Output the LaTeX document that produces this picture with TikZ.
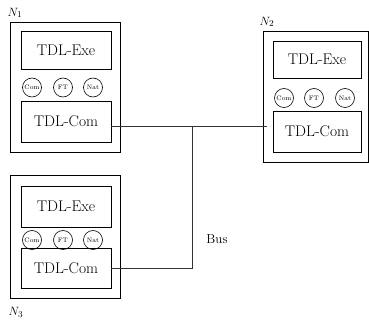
\documentclass[tikz,border=0pt]{standalone}
\begin{document}
\begin{tikzpicture}[x=1pt,y=-1pt,
  outerbox/.style={draw, line width=0.8pt, minimum width=110pt, inner sep=0pt},
  innerbox/.style={draw, line width=0.8pt, minimum width=90pt, inner sep=0pt, font=\fontsize{15.5}{18}\selectfont},
  smallc/.style={draw, circle, line width=0.6pt, minimum size=19pt, inner sep=0pt, font=\fontsize{6.5}{7}\selectfont},
  lab/.style={font=\fontsize{12.5}{14}\selectfont},
  wire/.style={line width=0.8pt, draw=black!80}]
\useasboundingbox (0,0) rectangle (369,320);
% N1
\node[outerbox, minimum height=130pt] (o1) at (65,87) {};
\node[innerbox, minimum height=38pt] (e1) at (66,50) {TDL-Exe};
\node[smallc] (a1) at (32,87.5) {Com};
\node[smallc] (b1) at (63,87.5) {FT};
\node[smallc] (d1) at (93,87.5) {Nat};
\node[innerbox, minimum height=41pt] (c1) at (66,121.5) {TDL-Com};
\node[lab] (n1) at (15,13) {$N_1$};
% N2
\node[outerbox, minimum width=105pt, minimum height=131pt] (o2) at (315.5,96.5) {};
\node[innerbox, minimum width=88pt, minimum height=37pt] (e2) at (317,59.5) {TDL-Exe};
\node[smallc] (a2) at (284,98) {Com};
\node[smallc] (b2) at (314,98) {FT};
\node[smallc] (d2) at (345,98) {Nat};
\node[innerbox, minimum width=88pt, minimum height=41pt] (c2) at (317,131.5) {TDL-Com};
\node[lab] (n2) at (267,22) {$N_2$};
% N3
\node[outerbox, minimum height=123pt] (o3) at (65,236.5) {};
\node[innerbox, minimum height=41pt] (e3) at (66,206.5) {TDL-Exe};
\node[smallc] (a3) at (32,240) {Com};
\node[smallc] (b3) at (63,240) {FT};
\node[smallc] (d3) at (93,240) {Nat};
\node[innerbox, minimum height=40pt] (c3) at (66,268) {TDL-Com};
\node[lab] (n3) at (16,312) {$N_3$};
% bus
\coordinate (j1) at (192,126.5);
\coordinate (end2) at (267,126.5);
\draw[wire] (c1.east |- j1) -- (end2);
\draw[wire] (j1) -- (j1 |- c3.east) -- (c3.east);
\node[font=\fontsize{13}{15}\selectfont] (bus) at (217,239) {Bus};
\end{tikzpicture}
\end{document}
